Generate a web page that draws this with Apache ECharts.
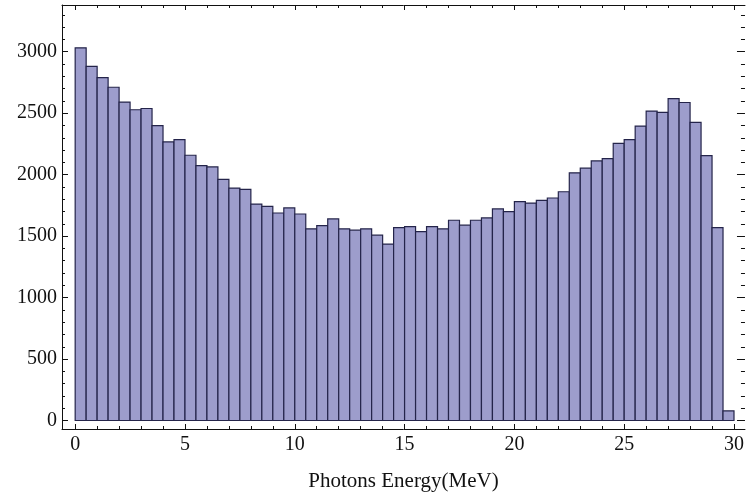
<!DOCTYPE html>
<html>
<head>
<meta charset="utf-8">
<script src="https://cdn.jsdelivr.net/npm/echarts@6/dist/echarts.min.js"></script>
<style>html,body{margin:0;padding:0;background:#fff;}#c{width:747px;height:497px;}</style>
</head>
<body>
<div id="c"></div>
<script>
const binWidth = 0.5;
const counts = [3032, 2881, 2789, 2711, 2590, 2528, 2538, 2398, 2266, 2285,
  2158, 2074, 2063, 1961, 1891, 1880, 1761, 1742, 1688, 1729,
  1680, 1559, 1586, 1640, 1559, 1548, 1559, 1508, 1435, 1569,
  1577, 1537, 1577, 1559, 1629, 1589, 1629, 1648, 1721, 1699,
  1780, 1769, 1791, 1810, 1861, 2015, 2053, 2112, 2131, 2255,
  2285, 2395, 2517, 2506, 2619, 2587, 2425, 2155, 1569, 79];
const xMajorTicks = [0, 5, 10, 15, 20, 25, 30];
const xMinorTicks = [1,2,3,4,6,7,8,9,11,12,13,14,16,17,18,19,21,22,23,24,26,27,28,29];
const yMajorTicks = [0, 500, 1000, 1500, 2000, 2500, 3000];
const yMinorTicks = [100,200,300,400,600,700,800,900,1100,1200,1300,1400,1600,1700,1800,1900,2100,2200,2300,2400,2600,2700,2800,2900,3100,3200,3300];
const xTitle = 'Photons Energy(MeV)';

const data = counts.map((c, i) => [i * binWidth, (i + 1) * binWidth, c]);

const X_MIN = -0.6, X_MAX = 30.5, Y_MIN = -69, Y_MAX = 3380;
const font = 'Liberation Serif';
const lineStyle = {color: '#111', width: 1};
const fmt = v => String(v);

function xAx(pos, ticks, len, labels, show) {
  return {
    type: 'value', position: pos, min: X_MIN, max: X_MAX,
    axisLine: {show: show, onZero: false, lineStyle: lineStyle},
    axisTick: {show: true, inside: true, length: len, customValues: ticks, lineStyle: lineStyle},
    axisLabel: labels ? {show: true, customValues: ticks, formatter: fmt, margin: 6, color: '#111', fontFamily: font, fontSize: 20} : {show: false},
    splitLine: {show: false}
  };
}
function yAx(pos, ticks, len, labels, show) {
  return {
    type: 'value', position: pos, min: Y_MIN, max: Y_MAX,
    axisLine: {show: show, onZero: false, lineStyle: lineStyle},
    axisTick: {show: true, inside: true, length: len, customValues: ticks, lineStyle: lineStyle},
    axisLabel: labels ? {show: true, customValues: ticks, formatter: fmt, margin: 5, color: '#111', fontFamily: font, fontSize: 20} : {show: false},
    splitLine: {show: false}
  };
}

const xAxes = [
  xAx('bottom', xMajorTicks, 5, true, true),
  xAx('bottom', xMinorTicks, 3, false, false),
  xAx('top', xMajorTicks, 5, false, true),
  xAx('top', xMinorTicks, 3, false, false)
];
xAxes[0].name = xTitle;
xAxes[0].nameLocation = 'middle';
xAxes[0].nameGap = 42;
xAxes[0].nameTextStyle = {color: '#111', fontFamily: font, fontSize: 21};

const yAxes = [
  yAx('left', yMajorTicks, 6, true, true),
  yAx('left', yMinorTicks, 3, false, false),
  yAx('right', yMajorTicks, 8, false, false),
  yAx('right', yMinorTicks, 4, false, false)
];

const chart = echarts.init(document.getElementById('c'), null, {renderer: 'canvas'});
chart.setOption({
  animation: false,
  backgroundColor: '#fff',
  grid: {left: 62, right: 1, top: 5, bottom: 66, containLabel: false},
  xAxis: xAxes,
  yAxis: yAxes,
  series: [{
    type: 'custom',
    xAxisIndex: 0, yAxisIndex: 0,
    encode: {x: [0, 1], y: 2},
    data: data,
    clip: true,
    renderItem: function (params, api) {
      const p0 = api.coord([api.value(0), api.value(2)]);
      const p1 = api.coord([api.value(1), 0]);
      return {
        type: 'rect',
        shape: {x: p0[0], y: p0[1], width: p1[0] - p0[0], height: p1[1] - p0[1]},
        style: {fill: '#9d9dcc', stroke: '#24244a', lineWidth: 1.2}
      };
    }
  }]
});
</script>
</body>
</html>
